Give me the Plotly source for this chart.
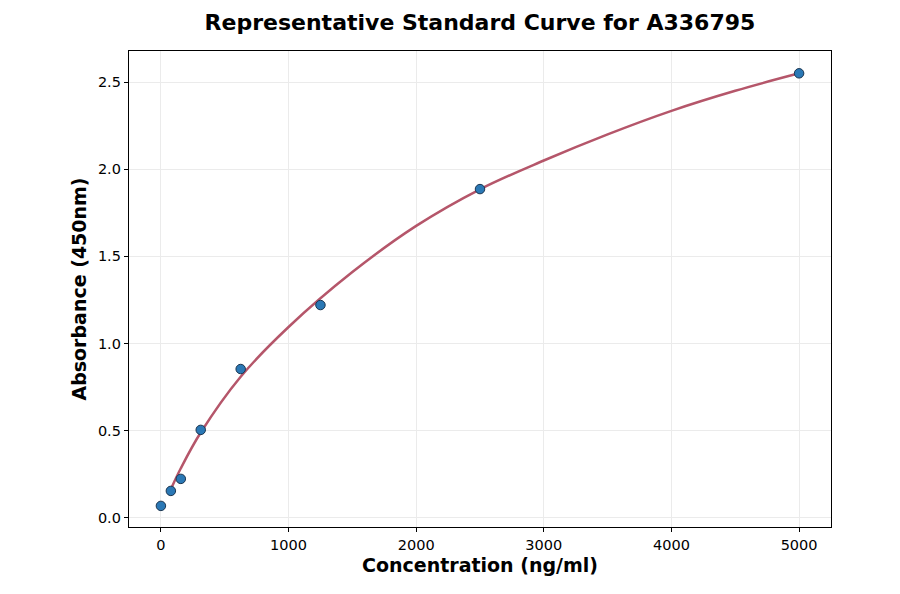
import plotly.graph_objects as go

# Standard points
conc = [0, 78, 156, 312, 625, 1250, 2500, 5000]
absorb = [0.069, 0.155, 0.224, 0.505, 0.854, 1.221, 1.886, 2.55]

# Fitted curve
curve_x = [78, 156, 312, 625, 1000, 1500, 2000, 2500, 3000, 3500, 4000, 4500, 5000]
curve_y = [0.165, 0.285, 0.49, 0.81, 1.095, 1.41, 1.675, 1.885, 2.05, 2.20, 2.335, 2.45, 2.55]

x_ticks = [0, 1000, 2000, 3000, 4000, 5000]
y_ticks = [0.0, 0.5, 1.0, 1.5, 2.0, 2.5]

fig = go.Figure()
fig.add_trace(go.Scatter(
    x=curve_x, y=curve_y, mode="lines",
    line=dict(color="#b5566a", width=2.5, shape="spline", smoothing=1.0),
    hoverinfo="skip", showlegend=False))
fig.add_trace(go.Scatter(
    x=conc, y=absorb, mode="markers",
    marker=dict(color="#2a78b5", size=9.5, line=dict(color="#1b3550", width=1)),
    showlegend=False))

font = "DejaVu Sans, sans-serif"
fig.update_layout(
    width=900, height=594,
    margin=dict(l=121, r=77, t=43, b=75),
    paper_bgcolor="white", plot_bgcolor="white",
    font=dict(family=font, size=14, color="black"),
    title=dict(text="<b>Representative Standard Curve for A336795</b>",
               x=0.5244, xanchor="center", y=0.976, yanchor="middle",
               font=dict(family=font, size=22, color="black")),
)
fig.update_xaxes(
    range=[-250, 5250], tickvals=x_ticks, ticktext=[str(v) for v in x_ticks],
    showgrid=True, gridcolor="#ebebeb", gridwidth=1, zeroline=False,
    showline=True, linecolor="black", linewidth=1.3, mirror=True,
    ticks="outside", ticklen=4, tickcolor="black", tickfont=dict(size=14.5),
    title=dict(text="<b>Concentration (ng/ml)</b>", font=dict(size=19), standoff=7),
)
fig.update_yaxes(
    range=[-0.052, 2.678], tickvals=y_ticks, ticktext=[f"{v:.1f}" for v in y_ticks],
    showgrid=True, gridcolor="#ebebeb", gridwidth=1, zeroline=False,
    showline=True, linecolor="black", linewidth=1.3, mirror=True,
    ticks="outside", ticklen=4, tickcolor="black", tickfont=dict(size=14.5),
    title=dict(text="<b>Absorbance (450nm)</b>", font=dict(size=19), standoff=6),
)
fig.write_html("out.html")
